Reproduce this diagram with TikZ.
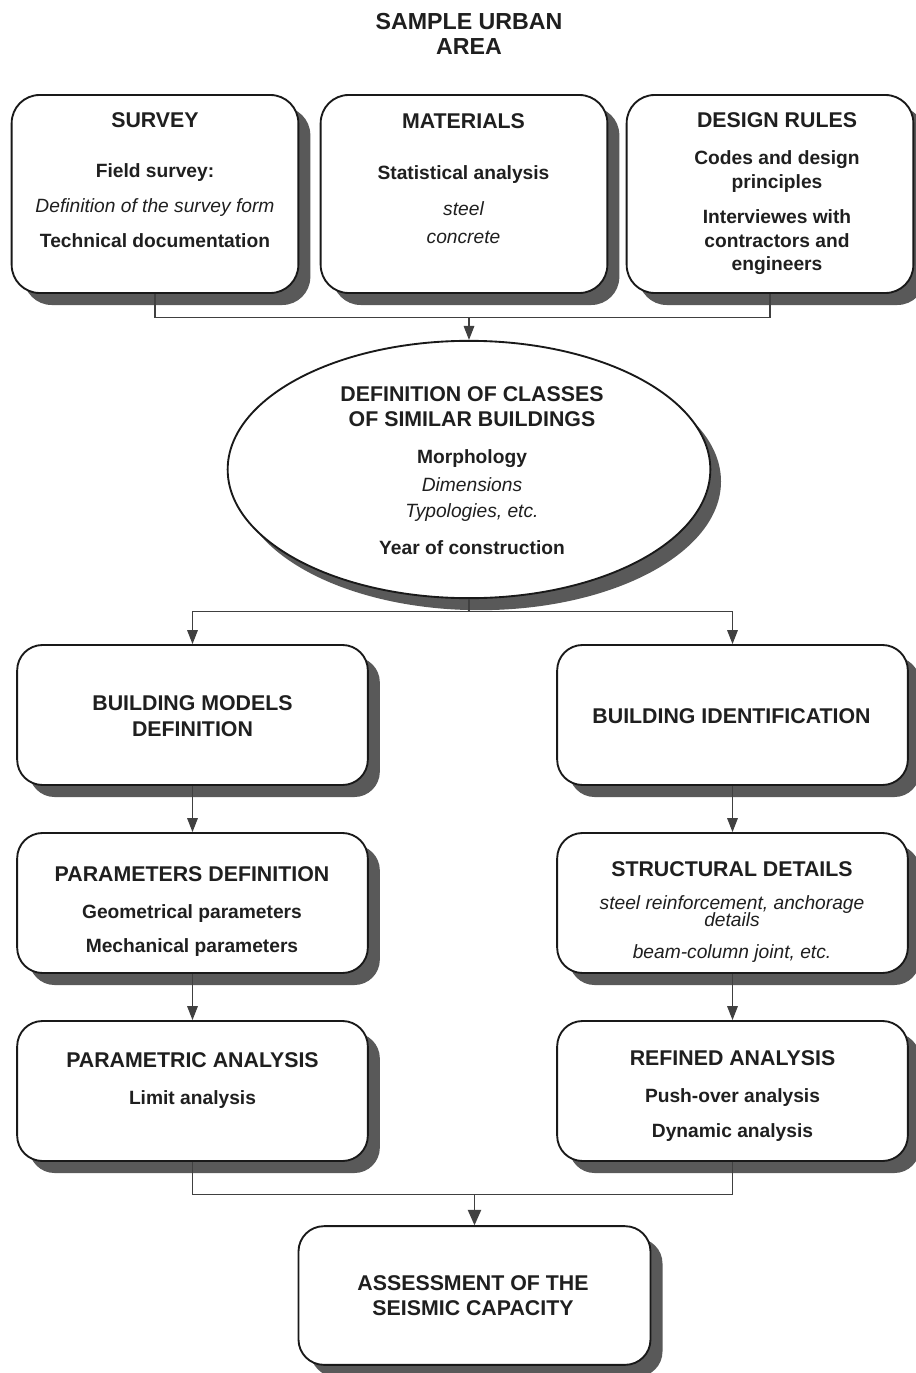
\documentclass[tikz,border=0pt]{standalone}
\usepackage{fontspec}
\setmainfont{Liberation Sans}
\usetikzlibrary{arrows.meta,shapes.geometric,shadows}

\newcommand{\hd}[1]{{\fontsize{16}{15}\selectfont\bfseries #1}}
\newcommand{\itl}[1]{{\mdseries\itshape #1}}

\begin{document}
\begin{tikzpicture}[x=0.75pt,y=-0.75pt,
  shade/.style={general shadow={fill=black!65,shadow xshift=9pt,shadow yshift=-9pt}},
  topbox/.style={draw=black!90,line width=1.4pt,fill=white,rounded corners=21pt,
    minimum width=215pt,minimum height=148.5pt,shade},
  box/.style={draw=black!90,line width=1.4pt,fill=white,rounded corners=19pt,
    minimum width=263pt,minimum height=105pt,shade},
  txt/.style={inner sep=0pt,align=center,text=black!88,
    font=\fontsize{14.4}{15}\selectfont\bfseries},
  conn/.style={draw=black!75,line width=0.8pt},
  arr/.style={conn,-{Triangle[width=8pt,length=10.5pt]}},
  bigarr/.style={conn,-{Triangle[width=10pt,length=11.5pt]}}]
\useasboundingbox (0,0) rectangle (915,1373);

\node[txt,anchor=north,font=\fontsize{17.4}{15}\selectfont\bfseries] (area) at (469,13)
  {SAMPLE URBAN\\[4pt]AREA};

% top row
\node[topbox] (survey) at (155,194) {};
\node[topbox] (materials) at (464,194) {};
\node[topbox] (rules) at (770,194) {};
\node[txt,anchor=north] (surveytxt) at (155,112.5) {\hd{SURVEY}\\[22.5pt]
  Field survey:\\[11.25pt]\itl{Definition of the survey form}\\[11.25pt]Technical documentation};
\node[txt,anchor=north] (materialstxt) at (463.5,113.5) {\hd{MATERIALS}\\[23.25pt]
  Statistical analysis\\[12pt]\itl{steel}\\[6pt]\itl{concrete}};
\node[txt,anchor=north] (rulestxt) at (777,112.5) {\hd{DESIGN RULES}\\[12.75pt]
  Codes and design\\[3pt]principles\\[11.25pt]Interviewes with\\[3pt]contractors and\\[2.25pt]engineers};

% classes
\node[ellipse,draw=black!90,line width=1.4pt,fill=white,inner sep=0pt,
  minimum width=362pt,minimum height=193pt,
  general shadow={fill=black!65,shadow xshift=8pt,shadow yshift=-9pt}] (classes) at (469,469.5) {};
\node[txt,anchor=north] (classestxt) at (472,386.5) {\hd{DEFINITION OF CLASSES}\\[3.75pt]
  \hd{OF SIMILAR BUILDINGS}\\[12.75pt]Morphology\\[6pt]\itl{Dimensions}\\[4.5pt]
  \itl{Typologies, etc.}\\[12.75pt]Year of construction};

% left column
\node[box] (models) at (192.5,715) {};
\node[box] (params) at (192.5,903) {};
\node[box] (parametric) at (192.5,1091) {};
\node[txt,anchor=north] (modelstxt) at (192.5,695.5) {\hd{BUILDING MODELS}\\[4.5pt]\hd{DEFINITION}};
\node[txt,anchor=north] (paramstxt) at (192,866.5) {\hd{PARAMETERS DEFINITION}\\[12.75pt]
  Geometrical parameters\\[10.5pt]Mechanical parameters};
\node[txt,anchor=north] (parametrictxt) at (192.5,1052.5) {\hd{PARAMETRIC ANALYSIS}\\[12.75pt]
  Limit analysis};

% right column
\node[box] (ident) at (732.5,715) {};
\node[box] (details) at (732.5,903) {};
\node[box] (refined) at (732.5,1091) {};
\node[txt] (identtxt) at (731.5,716) {\hd{BUILDING IDENTIFICATION}};
\node[txt,anchor=north] (detailstxt) at (732,861.5) {\hd{STRUCTURAL DETAILS}\\[9.75pt]
  \itl{steel reinforcement, anchorage}\\[-2.25pt]\itl{details}\\[9pt]\itl{beam-column joint, etc.}};
\node[txt,anchor=north] (refinedtxt) at (732.5,1050.5) {\hd{REFINED ANALYSIS}\\[12.75pt]
  Push-over analysis\\[11.25pt]Dynamic analysis};

% result
\node[box,minimum width=264pt,minimum height=104pt] (assess) at (474.5,1295.5) {};
\node[txt,anchor=north] (assesstxt) at (473,1275.5) {\hd{ASSESSMENT OF THE}\\[3.75pt]\hd{SEISMIC CAPACITY}};

% connectors
\draw[conn] (survey.south) -- ++(0,24) coordinate (topjoin) -| (rules.south);
\draw[arr] (topjoin -| classes.north) -- (classes.north);
\draw[conn] (classes.south) -- ++(0,12) coordinate (split);
\draw[arr] (split) -| (models.north);
\draw[arr] (split) -| (ident.north);
\draw[arr] (models) -- (params);
\draw[arr] (params) -- (parametric);
\draw[arr] (ident) -- (details);
\draw[arr] (details) -- (refined);
\draw[conn] (parametric.south) -- ++(0,33) coordinate (botjoin) -| (refined.south);
\draw[bigarr] (assess.north |- botjoin) -- (assess.north);
\end{tikzpicture}
\end{document}
